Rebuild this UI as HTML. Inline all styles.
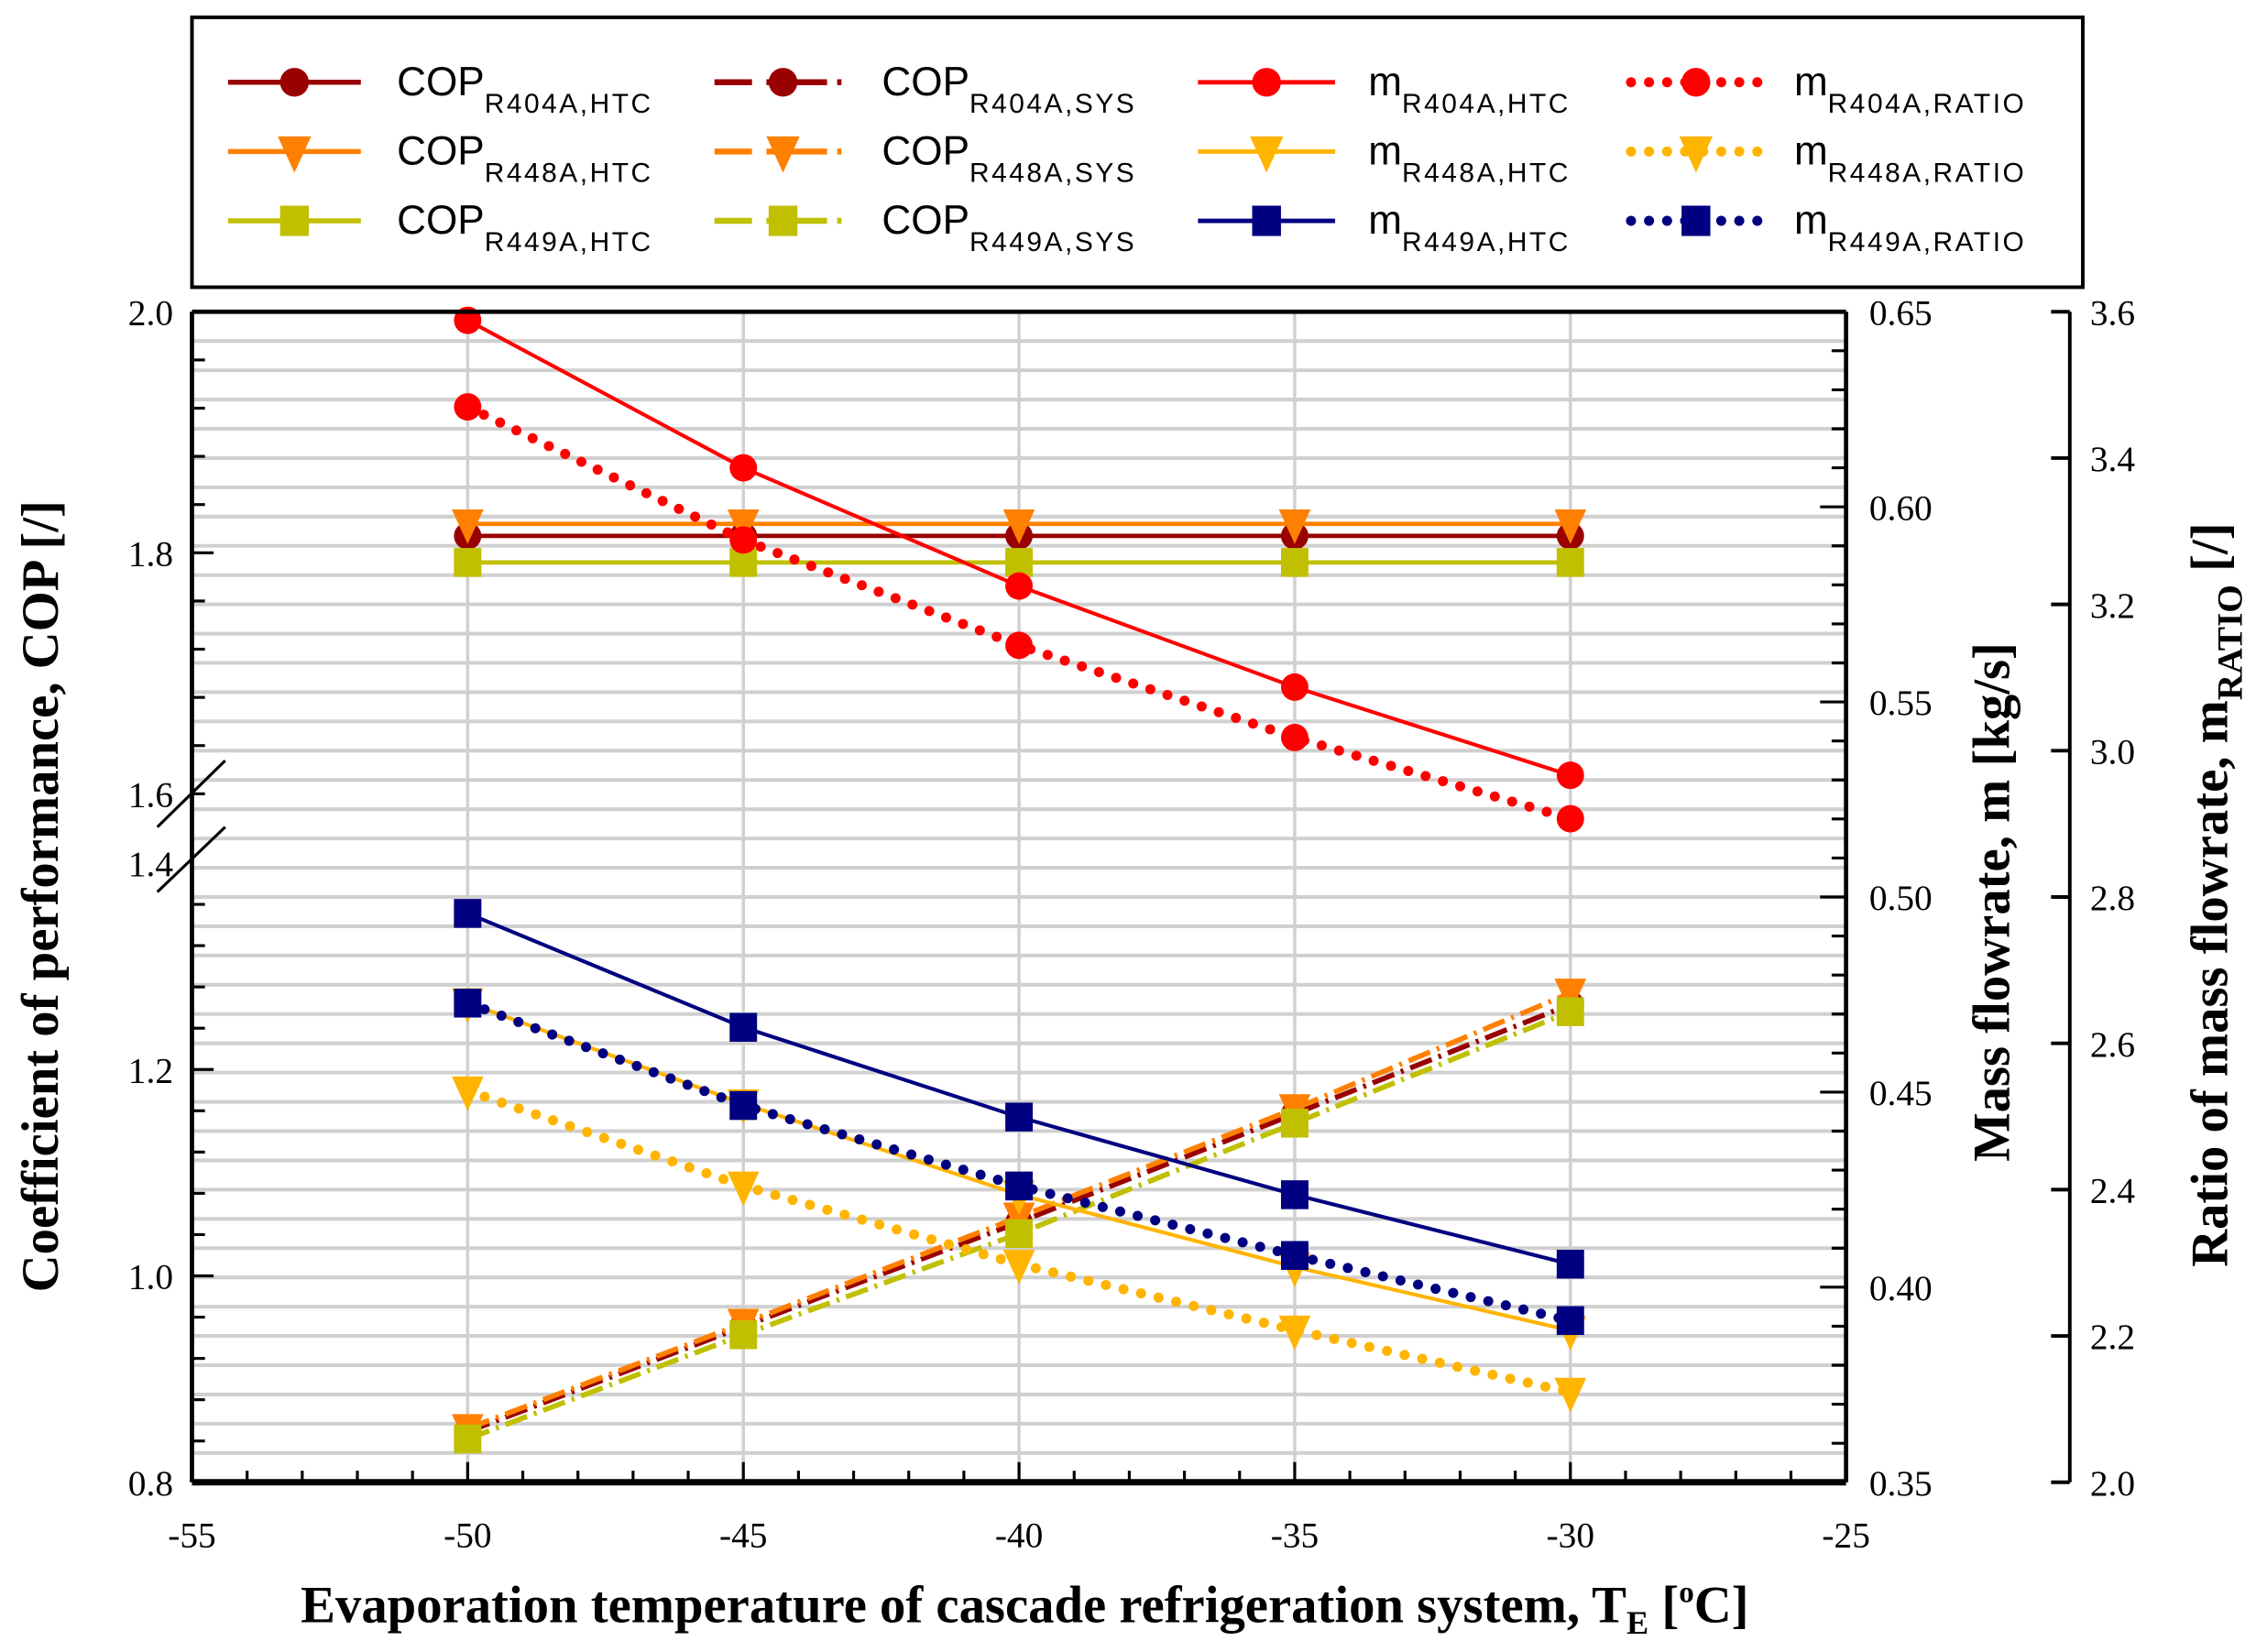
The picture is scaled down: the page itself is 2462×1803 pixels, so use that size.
<!DOCTYPE html>
<html><head><meta charset="utf-8"><style>
html,body{margin:0;padding:0;background:#fff;}
svg{display:block;}
.tk{font-family:"Liberation Serif",serif;font-size:25px;fill:#000;}
.tt{font-family:"Liberation Serif",serif;font-size:36px;font-weight:bold;fill:#000;}
.lg{font-family:"Liberation Sans",sans-serif;font-size:28px;fill:#000;}
.sb{font-size:19px;letter-spacing:1.6px;}
</style></head><body>
<svg id="chart" width="2462" height="1803" viewBox="0 0 1563 1144.6" preserveAspectRatio="none" xmlns="http://www.w3.org/2000/svg">
<g id="grid"></g>
<g id="series"></g>
<g id="axes"></g>
<g id="legend"></g>
</svg>
<script>
const temps = [-50, -45, -40, -35, -30];
const copR404aHtc = [1.814, 1.814, 1.814, 1.814, 1.814];
const copR448aHtc = [1.824, 1.824, 1.824, 1.824, 1.824];
const copR449aHtc = [1.792, 1.792, 1.792, 1.792, 1.792];
const copR404aSys = [0.849, 0.951, 1.052, 1.157, 1.263];
const copR448aSys = [0.852, 0.954, 1.057, 1.162, 1.274];
const copR449aSys = [0.842, 0.943, 1.041, 1.148, 1.256];
const mR404aHtc = [0.6478, 0.610, 0.5797, 0.5538, 0.5312];
const mR448aHtc = [0.4729, 0.4470, 0.4237, 0.4052, 0.3889];
const mR449aHtc = [0.4958, 0.4666, 0.4436, 0.4237, 0.4059];
const mR404aRatio = [3.470, 3.288, 3.144, 3.018, 2.907];
const mR448aRatio = [2.535, 2.405, 2.298, 2.208, 2.123];
const mR449aRatio = [2.655, 2.515, 2.405, 2.310, 2.221];
const xTicks = [-55, -50, -45, -40, -35, -30, -25];
const copTicks = ["2.0", "1.8", "1.6", "1.4", "1.2", "1.0", "0.8"];
const massTicks = ["0.65", "0.60", "0.55", "0.50", "0.45", "0.40", "0.35"];
const ratioTicks = ["3.6", "3.4", "3.2", "3.0", "2.8", "2.6", "2.4", "2.2", "2.0"];

const NS = "http://www.w3.org/2000/svg";
const L = 133, R = 1279, T = 216, B = 1027, RA = 1434;
function xS(v){ return L + (v + 55) * (R - L) / 30; }
function yCop(v){ return v >= 1.5 ? T + (2.0 - v) * 835 : B - (v - 0.8) * 715; }
function yMass(v){ return T + (0.65 - v) * (B - T) / 0.3; }
function yRatio(v){ return T + (3.6 - v) * (B - T) / 1.6; }
function mk(tag, attrs, parent){
  const e = document.createElementNS(NS, tag);
  for (const k in attrs) e.setAttribute(k, attrs[k]);
  parent.appendChild(e);
  return e;
}
const grid = document.getElementById('grid'), ser = document.getElementById('series'),
      axes = document.getElementById('axes'), leg = document.getElementById('legend');

for (let i = 1; i < 40; i++) {
  const y = T + i * (B - T) / 40;
  const g = mk('line', {x1:L, x2:R, y1:y, y2:y, stroke:'#d0d0d0', 'stroke-width':2.6}, grid);
  
  
}
[-50,-45,-40,-35,-30].forEach(v => {
  const g = mk('line', {x1:xS(v), x2:xS(v), y1:T, y2:B, stroke:'#d0d0d0', 'stroke-width':2.2}, grid);
  
  
});

function marker(shape, x, y, color, parent, s){
  s = s || 1;
  let e;
  if (shape === 'circle') e = mk('circle', {cx:x, cy:y, r:9.5*s, fill:color}, parent);
  else if (shape === 'square') e = mk('rect', {x:x-9.5*s, y:y-10*s, width:19*s, height:20*s, fill:color}, parent);
  else e = mk('path', {d:`M${x-11*s},${y-10*s}L${x+11*s},${y-10*s}L${x},${y+14*s}Z`, fill:color}, parent);
  return e;
}
const styles = {
  solid:{dash:'', w:2.6, cap:'butt'},
  thick:{dash:'', w:3, cap:'butt'},
  sys:{dash:'16 5 2 5', w:3.6, cap:'butt'},
  dot:{dash:'0 12.5', w:7, cap:'round'}
};
function series(name, vals, yf, color, shape, st){
  const g = mk('g', {}, ser);
  
  
  const pts = vals.map((v, i) => xS(temps[i]) + ',' + yf(v)).join(' ');
  const s = styles[st];
  const pl = mk('polyline', {points:pts, fill:'none', stroke:color, 'stroke-width':s.w, 'stroke-dasharray':s.dash, 'stroke-linecap':s.cap}, g);
  
  
  vals.forEach((v, i) => {
    const m = marker(shape, xS(temps[i]), yf(v), color, g);
    
    
  });
}
series('cop-r404a-sys', copR404aSys, yCop, '#990000', 'circle', 'sys');
series('cop-r448a-sys', copR448aSys, yCop, '#ff8000', 'tri', 'sys');
series('cop-r449a-sys', copR449aSys, yCop, '#c0c000', 'square', 'sys');
series('cop-r404a-htc', copR404aHtc, yCop, '#990000', 'circle', 'thick');
series('cop-r448a-htc', copR448aHtc, yCop, '#ff8000', 'tri', 'thick');
series('cop-r449a-htc', copR449aHtc, yCop, '#c0c000', 'square', 'thick');
series('m-r448a-ratio', mR448aRatio, yRatio, '#ffb400', 'tri', 'dot');
series('m-r448a-htc', mR448aHtc, yMass, '#ffb400', 'tri', 'solid');
series('m-r404a-htc', mR404aHtc, yMass, '#ff0000', 'circle', 'solid');
series('m-r404a-ratio', mR404aRatio, yRatio, '#ff0000', 'circle', 'dot');
series('m-r449a-htc', mR449aHtc, yMass, '#000080', 'square', 'solid');
series('m-r449a-ratio', mR449aRatio, yRatio, '#000080', 'square', 'dot');

function ln(x1,y1,x2,y2,w,name){
  const e = mk('line', {x1:x1, y1:y1, x2:x2, y2:y2, stroke:'#000', 'stroke-width':w}, axes);
  
  
  return e;
}
function tx(x,y,str,anchor,name,cls){
  const e = mk('text', {x:x, y:y, 'text-anchor':anchor, class:cls||'tk'}, axes);
  e.textContent = str;
  
  
  return e;
}
ln(L, T, R, T, 3, 'plot-top-border');
ln(L, B, R, B, 4.5, 'x-axis-line');
ln(L, T, L, B, 3, 'left-axis-line');
ln(R, T, R, B, 3, 'mass-axis-line');
ln(RA, T, RA, B, 2.5, 'ratio-axis-line');
for (let v = -54; v < -25; v++) {
  const major = v % 5 === 0;
  ln(xS(v), B, xS(v), B - (major ? 14 : 8), 2, 'x-tick');
}
xTicks.forEach(v => tx(xS(v), 1072, String(v), 'middle', 'x-tick-label'));
const copTickVals = [2.0, 1.8, 1.6, 1.4, 1.2, 1.0, 0.8];
for (let v = 1.96; v > 1.59; v -= 0.04) ln(L, yCop(v), L + (Math.abs(v-1.8) < 0.01 ? 15 : 9), yCop(v), 2, 'cop-tick');
for (let v = 1.36; v > 0.81; v -= 0.04) ln(L, yCop(v), L + (Math.abs(v-1.2) < 0.01 || Math.abs(v-1.0) < 0.01 ? 15 : 9), yCop(v), 2, 'cop-tick');
copTickVals.forEach((v, i) => tx(L - 13, yCop(v) + 9, copTicks[i], 'end', 'cop-tick-label'));
ln(109, 573, 156, 527, 2, 'axis-break-mark');
ln(109, 618, 156, 573, 2, 'axis-break-mark');
for (let i = 1; i < 30; i++) {
  const v = 0.65 - i * 0.01;
  ln(R, yMass(v), R - (i % 5 === 0 ? 18 : 10), yMass(v), 2, 'mass-tick');
}
massTicks.forEach(s => tx(R + 16, yMass(parseFloat(s)) + 9, s, 'start', 'mass-tick-label'));
ratioTicks.forEach(s => {
  ln(RA, yRatio(parseFloat(s)), RA - 13, yRatio(parseFloat(s)), 2.5, 'ratio-tick');
  tx(RA + 14, yRatio(parseFloat(s)) + 9, s, 'start', 'ratio-tick-label');
});
let t = tx(710, 1124, '', 'middle', 'x-axis-title', 'tt');
t.innerHTML = 'Evaporation temperature of cascade refrigeration system, T<tspan dy="8" font-size="23">E</tspan><tspan dy="-8"> [</tspan><tspan dy="-14" font-size="21">o</tspan><tspan dy="14">C]</tspan>';
t = tx(0, 0, 'Coefficient of performance, COP [/]', 'middle', 'cop-axis-title', 'tt');
t.setAttribute('transform', 'translate(40,621) rotate(-90)');
t.setAttribute('font-size', '37');
t = tx(0, 0, 'Mass flowrate, m [kg/s]', 'middle', 'mass-axis-title', 'tt');
t.setAttribute('transform', 'translate(1392,625) rotate(-90)');
t.setAttribute('font-size', '40');
t = tx(0, 0, '', 'middle', 'ratio-axis-title', 'tt');
t.innerHTML = 'Ratio of mass flowrate, m<tspan dy="10" font-size="25">RATIO</tspan><tspan dy="-10"> [/]</tspan>';
t.setAttribute('transform', 'translate(1543,620) rotate(-90)');

const box = mk('rect', {x:133, y:12, width:1310, height:187, fill:'#fff', stroke:'#000', 'stroke-width':2.5}, leg);


const legCols = [
  {lx:158, lw:92, tx:275, style:'thick', main:'COP'},
  {lx:495, lw:95, tx:611, style:'sys', main:'COP'},
  {lx:830, lw:95, tx:948, style:'solid', main:'m'},
  {lx:1130, lw:90, tx:1243, style:'dot', main:'m'}
];
const legEntries = [
  [0, 0, '#990000', 'circle', 'R404A,HTC'], [0, 1, '#ff8000', 'tri', 'R448A,HTC'], [0, 2, '#c0c000', 'square', 'R449A,HTC'],
  [1, 0, '#990000', 'circle', 'R404A,SYS'], [1, 1, '#ff8000', 'tri', 'R448A,SYS'], [1, 2, '#c0c000', 'square', 'R449A,SYS'],
  [2, 0, '#ff0000', 'circle', 'R404A,HTC'], [2, 1, '#ffb400', 'tri', 'R448A,HTC'], [2, 2, '#000080', 'square', 'R449A,HTC'],
  [3, 0, '#ff0000', 'circle', 'R404A,RATIO'], [3, 1, '#ffb400', 'tri', 'R448A,RATIO'], [3, 2, '#000080', 'square', 'R449A,RATIO']
];
legEntries.forEach(e => {
  const c = legCols[e[0]], y = 57 + e[1] * 48;
  const g = mk('g', {}, leg);
  
  
  const s = styles[c.style];
  let dash = s.dash;
  if (c.style === 'sys') dash = '26 10 42 7 3 100';
  mk('line', {x1:c.lx, x2:c.lx + c.lw, y1:y, y2:y, stroke:e[2], 'stroke-width':s.w + (c.style==='dot'?0:0.5), 'stroke-dasharray':dash, 'stroke-linecap':s.cap}, g);
  marker(e[3], c.lx + c.lw / 2, y, e[2], g, 1.05);
  const t2 = mk('text', {x:c.tx, y:y + 9, class:'lg'}, g);
  t2.innerHTML = c.main + '<tspan class="sb" dy="12">' + e[4] + '</tspan>';
});
</script>
</body></html>
